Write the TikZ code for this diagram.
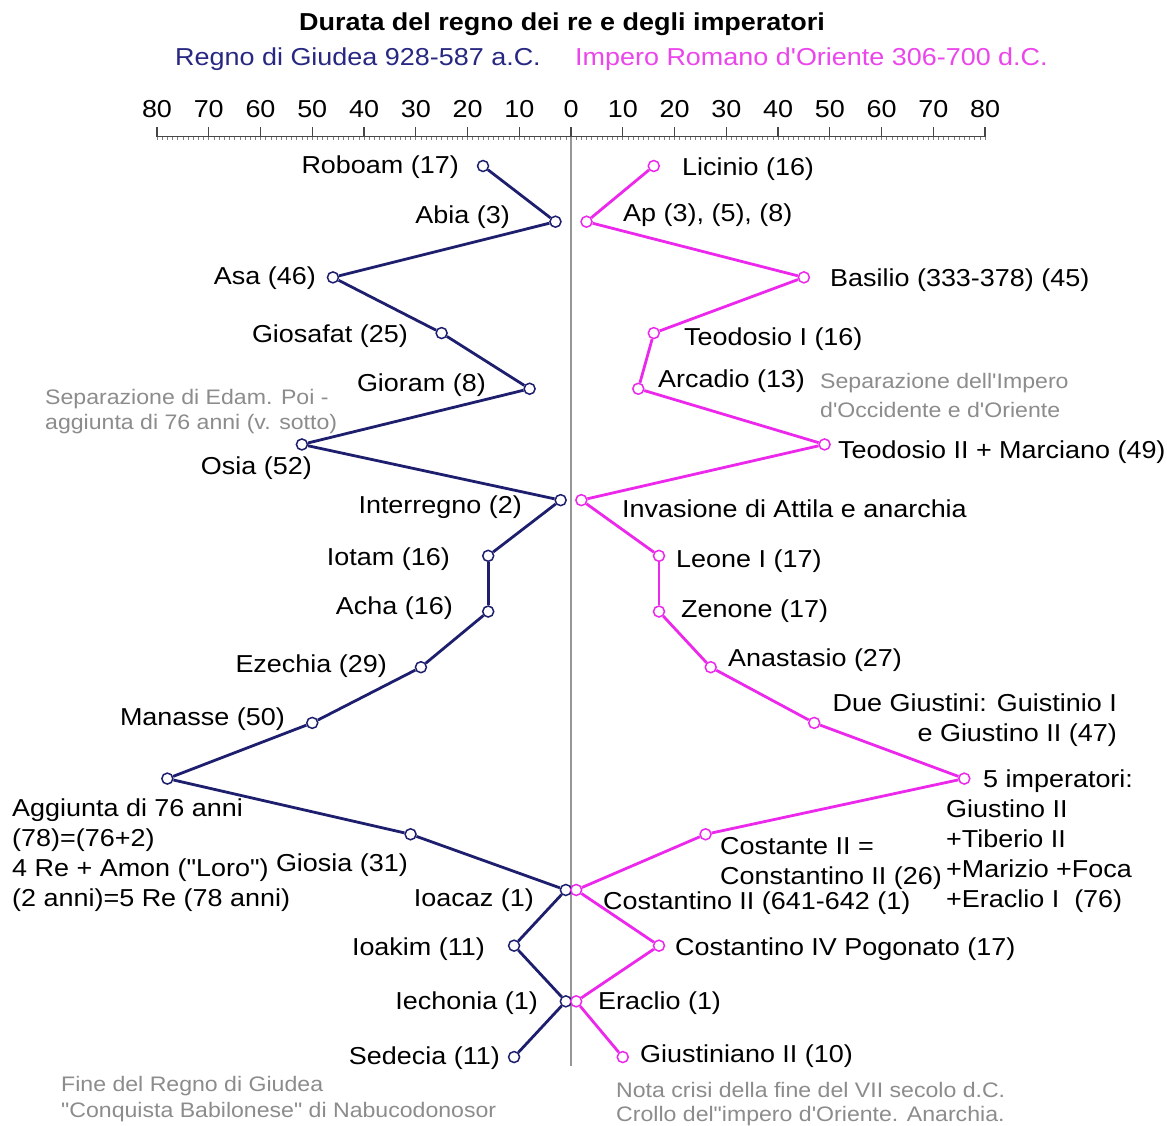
\documentclass[tikz,border=0pt]{standalone}
\usepackage{fontspec}
\setmainfont{Liberation Sans}[FakeStretch=1.1, Ligatures=TeXOff]
\definecolor{navyc}{RGB}{30,30,110}
\definecolor{navyt}{RGB}{40,40,130}
\definecolor{magc}{RGB}{235,40,235}
\definecolor{magt}{RGB}{235,70,235}
\definecolor{grayt}{RGB}{140,140,140}
\definecolor{axisc}{RGB}{70,70,70}
\definecolor{midc}{RGB}{150,150,150}
\newcommand{\labfont}{\fontsize{24.5}{30}\selectfont}
\newcommand{\notefont}{\fontsize{21}{25}\selectfont}
\begin{document}
\begin{tikzpicture}[x=1pt,y=-1pt,
  mk/.style={circle, draw, fill=white, minimum size=11pt, inner sep=0pt, line width=1.5pt},
  lbl/.style={inner sep=0pt, font=\labfont, text=black, yshift=-3pt},
  note/.style={inner sep=0pt, font=\notefont, text=grayt, align=left, yshift=-2pt},
  navyline/.style={draw=navyc, line width=2.8pt},
  magline/.style={draw=magc, line width=2.8pt}]
\useasboundingbox (0,0) rectangle (1167,1126);
\fill[white] (0,0) rectangle (1167,1126);

% title
\node[inner sep=0pt, yshift=-2pt, font=\fontsize{24.5}{28}\selectfont\bfseries] (title) at (562,22) {Durata del regno dei re e degli imperatori};
\node[inner sep=0pt, yshift=-3pt, anchor=west, font=\fontsize{24.5}{30}\selectfont, text=navyt] (subL) at (175,56) {Regno di Giudea 928-587 a.C.};
\node[inner sep=0pt, yshift=-3pt, anchor=west, font=\fontsize{24.5}{30}\selectfont, text=magt] (subR) at (575,56) {Impero Romano d'Oriente 306-700 d.C.};

% axis
\draw[axisc, line width=1pt] (157,137) -- (985,137);
\foreach \k in {0,...,160} { \draw[axisc!70, line width=0.6pt] ({157+5.175*\k},137) -- ({157+5.175*\k},140); }
\foreach \k in {0,...,16} { \draw[axisc, line width=1.3pt] ({157+51.75*\k},137) -- ({157+51.75*\k},127); }
\foreach \t [count=\k from 0] in {80,70,60,50,40,30,20,10,0,10,20,30,40,50,60,70,80} {
  \node[lbl] (tick\k) at ({157+51.75*\k},106) {\t};
}
\draw[midc, line width=1.3pt] (571,137) -- (571,1066);

% left series
\foreach \v [count=\i from 0] in {17,3,46,25,8,52,2,16,16,29,50,78,31,1,11,1,11} {
  \node[mk, draw=navyc] (L\i) at ({571-5.175*\v},{166+55.69*\i}) {};
}
% right series
\foreach \v [count=\i from 0] in {16,3,45,16,13,49,2,17,17,27,47,76,26,1,17,1,10} {
  \node[mk, draw=magc] (R\i) at ({571+5.175*\v},{166+55.69*\i}) {};
}
\foreach \i in {0,...,15} {
  \pgfmathtruncatemacro{\j}{\i+1}
  \draw[navyline] (L\i) -- (L\j);
  \draw[magline] (R\i) -- (R\j);
}

% left labels
\node[lbl, anchor=east] (tL0) at (459,164) {Roboam (17)};
\node[lbl, anchor=east] (tL1) at (510,214) {Abia (3)};
\node[lbl, anchor=east] (tL2) at (316,275) {Asa (46)};
\node[lbl, anchor=east] (tL3) at (408,333) {Giosafat (25)};
\node[lbl, anchor=east] (tL4) at (486,382) {Gioram (8)};
\node[lbl, anchor=east] (tL5) at (312,465) {Osia (52)};
\node[lbl, anchor=east] (tL6) at (522,504) {Interregno (2)};
\node[lbl, anchor=east] (tL7) at (450,556) {Iotam (16)};
\node[lbl, anchor=east] (tL8) at (453,605) {Acha (16)};
\node[lbl, anchor=east] (tL9) at (387,663) {Ezechia (29)};
\node[lbl, anchor=east] (tL10) at (285,716) {Manasse (50)};
\node[lbl, anchor=west, align=left] (tL11) at (12,852) {Aggiunta di 76 anni\\(78)=(76+2)\\4 Re + Amon ("Loro")\\(2 anni)=5 Re (78 anni)};
\node[lbl, anchor=east] (tL12) at (408,862) {Giosia (31)};
\node[lbl, anchor=east] (tL13) at (534,897) {Ioacaz (1)};
\node[lbl, anchor=east] (tL14) at (485,946) {Ioakim (11)};
\node[lbl, anchor=east] (tL15) at (538,1000) {Iechonia (1)};
\node[lbl, anchor=east] (tL16) at (500,1055) {Sedecia (11)};

% right labels
\node[lbl, anchor=west] (tR0) at (682,166) {Licinio (16)};
\node[lbl, anchor=west] (tR1) at (623,212) {Ap (3), (5), (8)};
\node[lbl, anchor=west] (tR2) at (830,277) {Basilio (333-378) (45)};
\node[lbl, anchor=west] (tR3) at (684,336) {Teodosio I (16)};
\node[lbl, anchor=west] (tR4) at (658,378) {Arcadio (13)};
\node[lbl, anchor=west] (tR5) at (838,449) {Teodosio II + Marciano (49)};
\node[lbl, anchor=west] (tR6) at (622,506) {Invasione di Attila e anarchia};
\node[lbl, anchor=west] (tR7) at (676,558) {Leone I (17)};
\node[lbl, anchor=west] (tR8) at (681,608) {Zenone (17)};
\node[lbl, anchor=west] (tR9) at (728,657) {Anastasio (27)};
\node[lbl, anchor=east, align=right] (tR10) at (1117,717) {Due Giustini: Guistinio I\\e Giustino II (47)};
\node[lbl, anchor=west, align=left] (tR11) at (946,838) {\hspace*{37pt}5 imperatori:\\Giustino II\\+Tiberio II\\+Marizio +Foca\\+Eraclio I\ \ (76)};
\node[lbl, anchor=west, align=left] (tR12) at (720,860) {Costante II =\\Constantino II (26)};
\node[lbl, anchor=west] (tR13) at (603,900) {Costantino II (641-642 (1)};
\node[lbl, anchor=west] (tR14) at (675,946) {Costantino IV Pogonato (17)};
\node[lbl, anchor=west] (tR15) at (598,1000) {Eraclio (1)};
\node[lbl, anchor=west] (tR16) at (640,1053) {Giustiniano II (10)};

% grey notes
\node[note, anchor=west] (nL1) at (45,410) {Separazione di Edam. Poi -\\aggiunta di 76 anni (v. sotto)};
\node[note, anchor=west, font=\fontsize{21}{29}\selectfont] (nR1) at (820,393) {Separazione dell'Impero\\d'Occidente e d'Oriente};
\node[note, anchor=west, font=\fontsize{21}{26}\selectfont] (nL2) at (61,1097) {Fine del Regno di Giudea\\"Conquista Babilonese" di Nabucodonosor};
\node[note, anchor=west, font=\fontsize{21}{24}\selectfont] (nR2) at (616,1102) {Nota crisi della fine del VII secolo d.C.\\Crollo del"impero d'Oriente. Anarchia.};
\end{tikzpicture}
\end{document}
